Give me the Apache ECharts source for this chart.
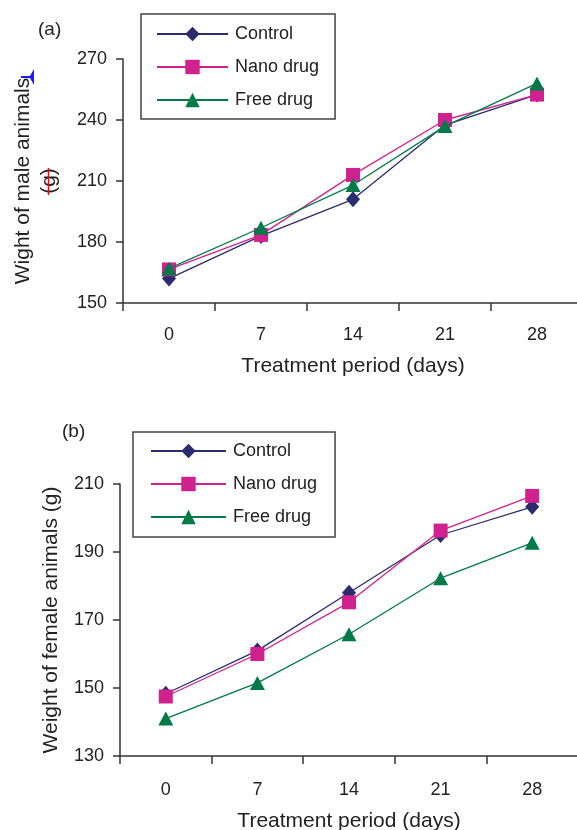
<!DOCTYPE html>
<html><head><meta charset="utf-8">
<script src="https://cdn.jsdelivr.net/npm/echarts@6/dist/echarts.min.js"></script>
<style>html,body{margin:0;padding:0;background:#fff}#c{width:577px;height:830px}</style>
</head><body><div id="c"></div>
<script>
const days = ['0', '7', '14', '21', '28'];
const seriesNames = ['Control', 'Nano drug', 'Free drug'];
const maleControl = [162, 183, 201, 237.5, 252.5];
const maleNano = [166.5, 183.5, 213, 240, 252.5];
const maleFree = [167, 187, 208, 237, 258];
const femaleControl = [148.3, 161, 178, 195, 203.3];
const femaleNano = [147.5, 160, 175.2, 196.3, 206.5];
const femaleFree = [141, 151.5, 165.8, 182.3, 192.7];
const maleTicks = {min: 150, max: 270, interval: 30};
const femaleTicks = {min: 130, max: 210, interval: 20};

const colors = ['#2b2c6e', '#d0228e', '#007a48'];
const symbols = ['diamond', 'rect', 'triangle'];
const symSizes = [[14, 16], 14, [15, 14]];
const FONT = 'Liberation Sans, Arial, sans-serif';
const axisColor = '#333';

function xAx(gi, labelMargin, nameGap) {
  return {
    type: 'category', gridIndex: gi, data: days, boundaryGap: true,
    name: 'Treatment period (days)', nameLocation: 'middle', nameGap: nameGap,
    nameTextStyle: {fontSize: 21, color: '#222', fontFamily: FONT},
    axisLine: {lineStyle: {color: axisColor, width: 1.5}},
    axisTick: {show: true, length: 8, lineStyle: {color: axisColor, width: 1.5}},
    axisLabel: {fontSize: 18, color: '#222', fontFamily: FONT, margin: labelMargin},
    splitLine: {show: false}
  };
}
function yAx(gi, t, name, gap, lh) {
  return {
    type: 'value', gridIndex: gi, min: t.min, max: t.max, interval: t.interval,
    name: name, nameLocation: 'middle', nameGap: gap,
    nameTextStyle: {fontSize: 21, color: '#222', fontFamily: FONT, lineHeight: lh},
    axisLine: {show: true, lineStyle: {color: axisColor, width: 1.5}},
    axisTick: {show: true, length: 7, lineStyle: {color: axisColor, width: 1.5}},
    axisLabel: {fontSize: 18, color: '#222', fontFamily: FONT, margin: 16},
    splitLine: {show: false}
  };
}
function mk(name, i, data, gi) {
  return {
    name: name, type: 'line', xAxisIndex: gi, yAxisIndex: gi, data: data,
    symbol: symbols[i], symbolSize: symSizes[i], showAllSymbol: true,
    lineStyle: {color: colors[i], width: 1.3},
    itemStyle: {color: colors[i]},
    emphasis: {disabled: true}, animation: false, z: 2 + i
  };
}
function leg(left, top, iw, pad) {
  return {
    orient: 'vertical', left: left, top: top, data: seriesNames,
    itemWidth: iw, itemHeight: 18, itemGap: 15,
    padding: pad, borderColor: '#444', borderWidth: 1.5,
    textStyle: {fontSize: 18, color: '#222', fontFamily: FONT, padding: [0, 0, 0, 2]},
    selectedMode: false
  };
}

const chart = echarts.init(document.getElementById('c'), null, {renderer: 'canvas'});
chart.setOption({
  backgroundColor: '#fff',
  animation: false,
  grid: [
    {left: 123, top: 59, width: 460, height: 244, outerBoundsMode: 'none', containLabel: false},
    {left: 120, top: 484, width: 458, height: 272, outerBoundsMode: 'none', containLabel: false}
  ],
  xAxis: [xAx(0, 23, 53), xAx(1, 25, 55)],
  yAxis: [
    yAx(0, maleTicks, 'Wight of male animals\n(g)', 61, 26),
    yAx(1, femaleTicks, 'Weight of female animals (g)', 56, 24)
  ],
  legend: [
    leg(141, 14, 71, [11, 16, 10, 15]),
    leg(133, 432, 75, [10, 18, 11, 17])
  ],
  series: [
    mk('Control', 0, maleControl, 0),
    mk('Nano drug', 1, maleNano, 0),
    mk('Free drug', 2, maleFree, 0),
    mk('Control', 0, femaleControl, 1),
    mk('Nano drug', 1, femaleNano, 1),
    mk('Free drug', 2, femaleFree, 1)
  ],
  graphic: [
    {type: 'text', left: 38, top: 20, style: {text: '(a)', fontSize: 19, fill: '#222', fontFamily: FONT}},
    {type: 'text', left: 62, top: 422, style: {text: '(b)', fontSize: 19, fill: '#222', fontFamily: FONT}},
    {type: 'polygon', shape: {points: [[21, 76], [30, 76], [34, 69], [34, 85], [30, 78], [21, 78]]}, style: {fill: '#1a1aff'}, z: 10},
    {type: 'line', shape: {x1: 48.5, y1: 168, x2: 48.5, y2: 195}, style: {stroke: '#ff0000', lineWidth: 1.5}, z: 10}
  ]
});
</script></body></html>
